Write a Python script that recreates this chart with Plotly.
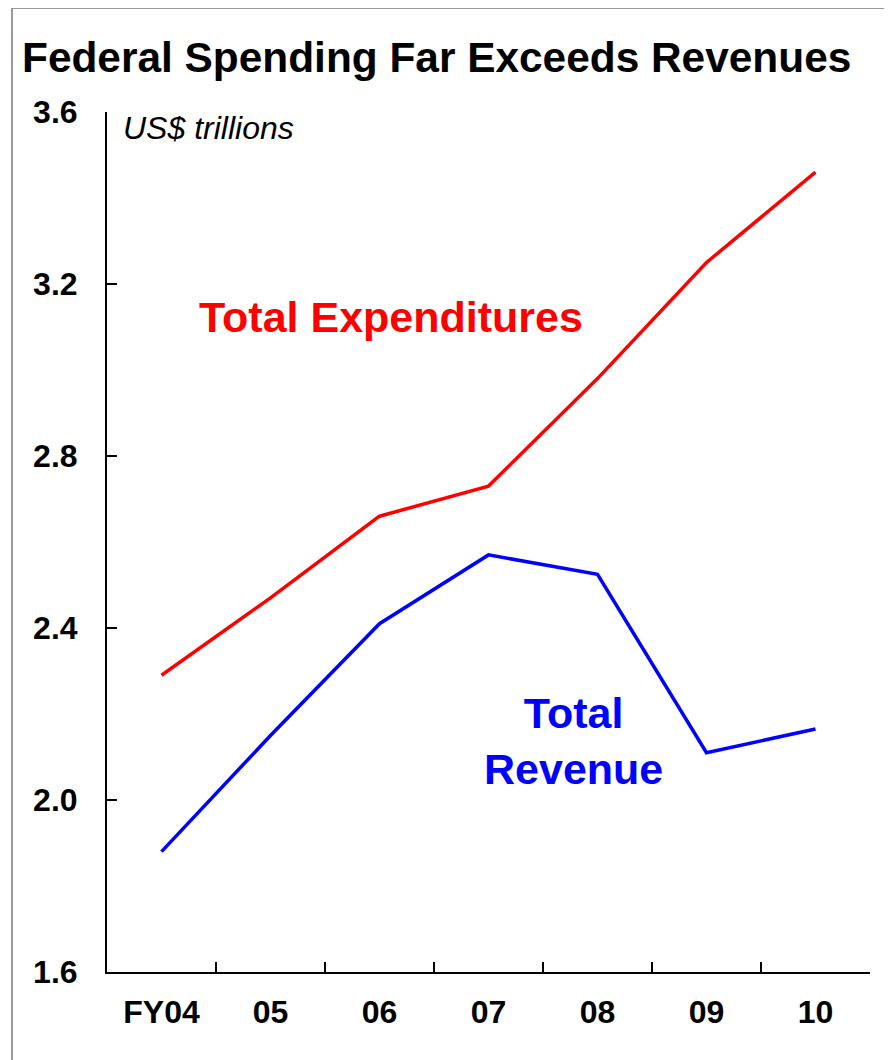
import plotly.graph_objects as go

years = ["FY04", "05", "06", "07", "08", "09", "10"]
expenditures = [2.29, 2.47, 2.66, 2.73, 2.98, 3.25, 3.46]
revenue = [1.88, 2.15, 2.41, 2.57, 2.525, 2.11, 2.165]
y_ticks = [1.6, 2.0, 2.4, 2.8, 3.2, 3.6]

FONT = "Liberation Sans, Arial, sans-serif"
OFF = 8  # page body offset

L, R, T, B = 107 - OFF, 870 - OFF, 112 - OFF, 972 - OFF
W, H = 892, 1060
PW, PH = R - L, B - T


def px(x):
    return (x - OFF - L) / PW


def py(y):
    return (B - (y - OFF)) / PH


fig = go.Figure()
fig.add_trace(go.Scatter(x=years, y=expenditures, mode="lines",
                         line=dict(color="#ff0000", width=3.5), showlegend=False))
fig.add_trace(go.Scatter(x=years, y=revenue, mode="lines",
                         line=dict(color="#0000ff", width=3.5), showlegend=False))

fig.update_layout(
    width=W, height=H,
    margin=dict(l=L, r=W - R, t=T, b=H - B),
    paper_bgcolor="white", plot_bgcolor="white",
    font=dict(family=FONT, color="black"),
    title=dict(text="<b>Federal Spending Far Exceeds Revenues</b>",
               font=dict(size=42.4, family=FONT, color="black"),
               x=(22 - OFF) / W, xanchor="left", xref="container",
               y=1 - (57 - OFF) / H, yanchor="middle", yref="container"),
    xaxis=dict(type="category", categoryorder="array", categoryarray=years,
               range=[-0.5, 6.5], showgrid=False, zeroline=False,
               showline=True, linecolor="black", linewidth=2,
               ticks="inside", ticklen=10, tickwidth=2, tickcolor="black",
               tickson="boundaries",
               tickfont=dict(size=32, family=FONT, color="black", weight="bold"),
               ticklabelstandoff=11),
    yaxis=dict(range=[1.6, 3.6], tickvals=y_ticks,
               ticktext=[f"{v:.1f}" for v in y_ticks],
               showgrid=False, zeroline=False,
               showline=True, linecolor="black", linewidth=2,
               ticks="inside", ticklen=10, tickwidth=2, tickcolor="black",
               tickfont=dict(size=32, family=FONT, color="black", weight="bold"),
               ticklabelstandoff=21),
)

fig.add_annotation(text="<i>US$ trillions</i>", xref="paper", yref="paper",
                   x=px(121), y=py(128),
                   xanchor="left", yanchor="middle", showarrow=False,
                   font=dict(size=32, family=FONT, color="black"))
fig.add_annotation(text="<b>Total Expenditures</b>", xref="paper", yref="paper",
                   x=px(391), y=py(317),
                   xanchor="center", yanchor="middle", showarrow=False,
                   font=dict(size=43, family=FONT, color="#ff0000"))
fig.add_annotation(text="<b>Total<br>Revenue</b>", xref="paper", yref="paper",
                   x=px(573), y=py(741),
                   xanchor="center", yanchor="middle", showarrow=False,
                   align="center",
                   font=dict(size=43, family=FONT, color="#0000ff"))

fig.add_shape(type="rect", xref="paper", yref="paper",
              x0=px(12), x1=px(890),
              y0=py(1075), y1=py(8),
              line=dict(color="#999999", width=2), fillcolor="rgba(0,0,0,0)",
              layer="below")

fig.write_html("out.html")
